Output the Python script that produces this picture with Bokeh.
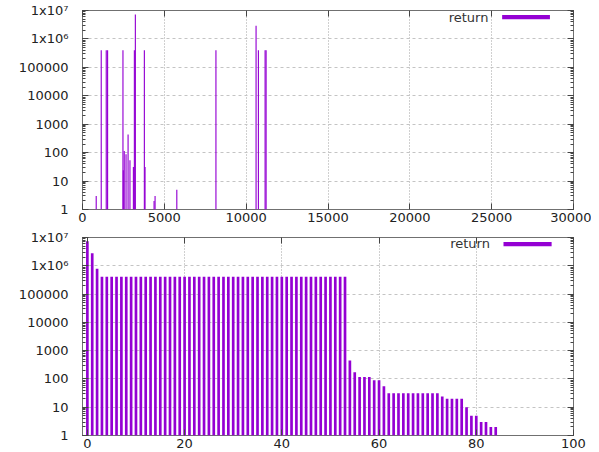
from bokeh.plotting import figure
from bokeh.layouts import column
from bokeh.models import (LogTicker, FixedTicker, CustomJSTickFormatter, LinearAxis,
                          LogAxis, Label, BoxAnnotation, Range1d)
from bokeh.embed import file_html
from bokeh.resources import INLINE

PURPLE = "#9400D3"
FONT = "DejaVu Sans"
TXT = "#222222"

# ---- top panel: value vs. position ----
top_x = [838, 1145, 1451, 1533, 2472, 2493, 2550, 2660, 2785, 2900, 3110, 3170, 3230,
         3780, 3821, 4373, 4434, 5762, 8153, 10605, 10748, 11157, 11218]
top_y = [3, 400000, 400000, 400000, 400000, 24, 114, 88, 437, 54, 31, 400000, 7200000,
         400000, 31, 2, 3, 5, 400000, 2900000, 400000, 400000, 400000]

# ---- bottom panel: ranked values ----
rank_x = list(range(85))
rank_y = [7300000, 2800000, 790000,
          410000, 410000, 410000, 410000, 410000, 410000, 410000, 410000, 410000, 410000,
          410000, 410000, 410000, 410000, 410000, 410000, 410000, 410000, 410000, 410000,
          410000, 410000, 410000, 410000, 410000, 410000, 410000, 410000, 410000, 410000,
          410000, 410000, 410000, 410000, 410000, 410000, 410000, 410000, 410000, 410000,
          410000, 410000, 410000, 410000, 410000, 410000, 410000, 410000, 410000, 410000,
          410000,
          447, 173, 118, 118, 118, 90, 90, 55,
          31, 31, 31, 31, 31, 31, 31, 31, 31, 31, 31,
          24, 20, 20, 20, 20, 10, 5, 5, 3, 3, 2, 2]

top_xticks = [0, 5000, 10000, 15000, 20000, 25000, 30000]
bot_xticks = [0, 20, 40, 60, 80, 100]
series_name = "return"

YFMT = CustomJSTickFormatter(code="""
const e = Math.round(Math.log10(tick));
const sup = {6: "\u2076", 7: "\u2077", 8: "\u2078"};
if (e >= 6) return "1x10" + sup[e];
return Math.round(tick).toString();
""")
BLANK = CustomJSTickFormatter(code="return '';")


def style_axis(ax, labels=True, minor=True, standoff=4):
    ax.axis_line_color = None
    ax.major_tick_in = 6
    ax.major_tick_out = 0
    ax.major_tick_line_color = "#444444"
    ax.minor_tick_in = 3 if minor else 0
    ax.minor_tick_out = 0
    ax.minor_tick_line_color = "#444444" if minor else None
    ax.major_label_text_font = FONT
    ax.major_label_text_color = TXT
    if labels:
        ax.major_label_text_font_size = "13px"
        ax.major_label_standoff = standoff
    else:
        ax.major_label_text_font_size = "0px"
        ax.major_label_standoff = 0


def make_fig(xr, xticks, height, btop, bbottom, xs, ys, width_bar, leg):
    p = figure(width=591, height=height, x_range=xr, y_range=Range1d(1, 1e7),
               y_axis_type="log", output_backend="svg", toolbar_location=None,
               min_border_left=82, min_border_right=18, min_border_top=btop,
               min_border_bottom=bbottom)
    p.outline_line_color = "#707070"
    p.outline_line_width = 1
    p.background_fill_color = "white"
    p.border_fill_color = "white"

    p.vbar(x=xs, top=ys, bottom=1, width=width_bar, fill_color=PURPLE,
           line_color=None)

    p.xaxis.ticker = FixedTicker(ticks=xticks)
    p.yaxis.ticker = LogTicker(num_minor_ticks=10)
    p.yaxis.formatter = YFMT
    style_axis(p.xaxis[0], labels=True, minor=False, standoff=3)
    style_axis(p.yaxis[0], labels=True, minor=True, standoff=14)

    ra = LogAxis(ticker=LogTicker(num_minor_ticks=10), formatter=BLANK)
    style_axis(ra, labels=False, minor=True)
    p.add_layout(ra, "right")
    ta = LinearAxis(ticker=FixedTicker(ticks=xticks), formatter=BLANK)
    style_axis(ta, labels=False, minor=False)
    p.add_layout(ta, "above")

    p.ygrid.ticker = LogTicker(num_minor_ticks=10)
    p.ygrid.grid_line_color = "#c4c4c4"
    p.ygrid.grid_line_dash = "3 3"
    p.xgrid.ticker = FixedTicker(ticks=xticks)
    p.xgrid.grid_line_color = "#a0a0a0"
    p.xgrid.grid_line_dash = "1 2"

    tx, bl, br = leg
    p.add_layout(Label(x=tx, y=5.9e6, text=series_name, text_align="right",
                       text_baseline="middle", text_font=FONT,
                       text_font_size="13px", text_color="#333333"))
    p.add_layout(BoxAnnotation(left=bl, right=br, bottom=4.9e6, top=7.0e6,
                               fill_color=PURPLE, fill_alpha=1.0, line_color=None))
    return p


p1 = make_fig(Range1d(0, 30000), top_xticks, 226, 10, 17, top_x, top_y, 70,
              (24800, 25640, 28560))
p2 = make_fig(Range1d(-1, 100), bot_xticks, 224, 11, 14, rank_x, rank_y, 0.55,
              (82.8, 85.6, 95.5))

layout = column(p1, p2, spacing=0)
open("out.html", "w").write(file_html(layout, INLINE))
